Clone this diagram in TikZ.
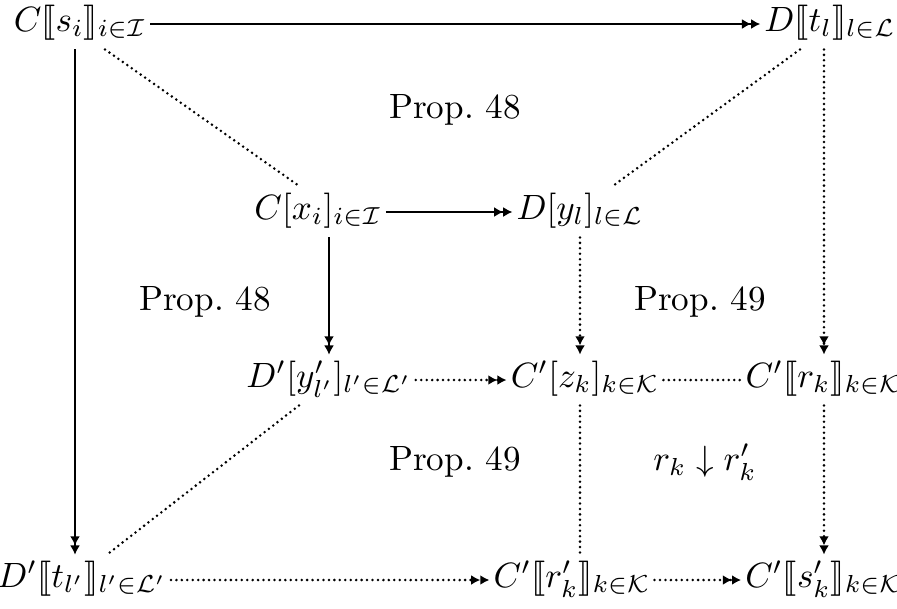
\documentclass[tikz,border=0pt]{standalone}
\usepackage{amsmath,amssymb}
\usepackage{stmaryrd}
\usepackage{tikz}
\usetikzlibrary{arrows.meta}
\tikzset{
	obj/.style={inner sep=1pt, text height=1.9ex, text depth=0.9ex},
	twohead/.style={-{Latex[length=2.6pt,width=2.8pt]Latex[length=2.6pt,width=2.8pt]}},
	dotline/.style={line width=0.8pt, line cap=round, dash pattern=on 0pt off 1.55pt},
}
\begin{document}
\begin{tikzpicture}
						\useasboundingbox (0,0) rectangle (8.97,-6.08);
						
						\node[obj] (sC) at (0.80,-0.24) {$C\llbracket s_i\rrbracket_{i\in\mathcal{I}}$};
						\node[obj] (tD) at (8.30,-0.24) {$D\llbracket t_l\rrbracket_{l\in\mathcal{L}}$};
						\node[obj] (xC) at (3.18,-2.12) {$C[x_i]_{i\in\mathcal{I}}$};
						\node[obj] (yD) at (5.80,-2.12) {$D[y_l]_{l\in\mathcal{L}}$};
						\node[obj] (yDp) at (3.29,-3.80) {$D'[y'_{l'}]_{l'\in\mathcal{L}'}$};
						\node[obj] (zC) at (5.85,-3.80) {$C'[z_k]_{k\in\mathcal{K}}$};
						\node[obj] (rC) at (8.24,-3.80) {$C'\llbracket r_k\rrbracket_{k\in\mathcal{K}}$};
						\node[obj] (tDp) at (0.82,-5.80) {$D'\llbracket t_{l'}\rrbracket_{l'\in\mathcal{L}'}$};
						\node[obj] (rCp) at (5.72,-5.80) {$C'\llbracket r'_k\rrbracket_{k\in\mathcal{K}}$};
						\node[obj] (sCp) at (8.24,-5.80) {$C'\llbracket s'_k\rrbracket_{k\in\mathcal{K}}$};
						
						\node (p48a) at (4.55,-1.10) {Prop.~48};
						\node (p48b) at (2.05,-3.02) {Prop.~48};
						\node (p49a) at (7.00,-3.02) {Prop.~49};
						\node (p49b) at (4.55,-4.62) {Prop.~49};
						\node (rdown) at (7.05,-4.62) {$r_k\downarrow r'_k$};
						
						% solid arrows
						\draw[twohead] (sC) -- (tD);
						\draw[twohead] (sC.south -| 0.75,0) -- (tDp.north -| 0.75,0);
						\draw[twohead] (xC) -- (yD);
						\draw[twohead] (xC.south -| yDp.north) -- (yDp.north);
						
						% dotted lines
						\draw[dotline] ([xshift=0.25cm]sC.south) -- ([xshift=-0.18cm]xC.north);
						\draw[dotline] ([xshift=-0.3cm]tD.south) -- ([xshift=0.32cm]yD.north);
						\draw[dotline] (zC) -- (rC);
						\draw[dotline] ([xshift=-0.3cm]yDp.south) -- ([xshift=0.25cm]tDp.north);
						\draw[dotline] (zC.south -| yD.south) -- (rCp.north -| yD.south);
						
						% dotted arrows
						\draw[dotline, twohead] (yD.south) -- (yD.south |- zC.north);
						\draw[dotline, twohead] (tD.south -| rC.north) -- (rC.north);
						\draw[dotline, twohead] (yDp) -- (zC);
						\draw[dotline, twohead] (rC) -- (sCp);
						\draw[dotline, twohead] (tDp) -- (rCp);
						\draw[dotline, twohead] (rCp) -- (sCp);
					\end{tikzpicture}
\end{document}
